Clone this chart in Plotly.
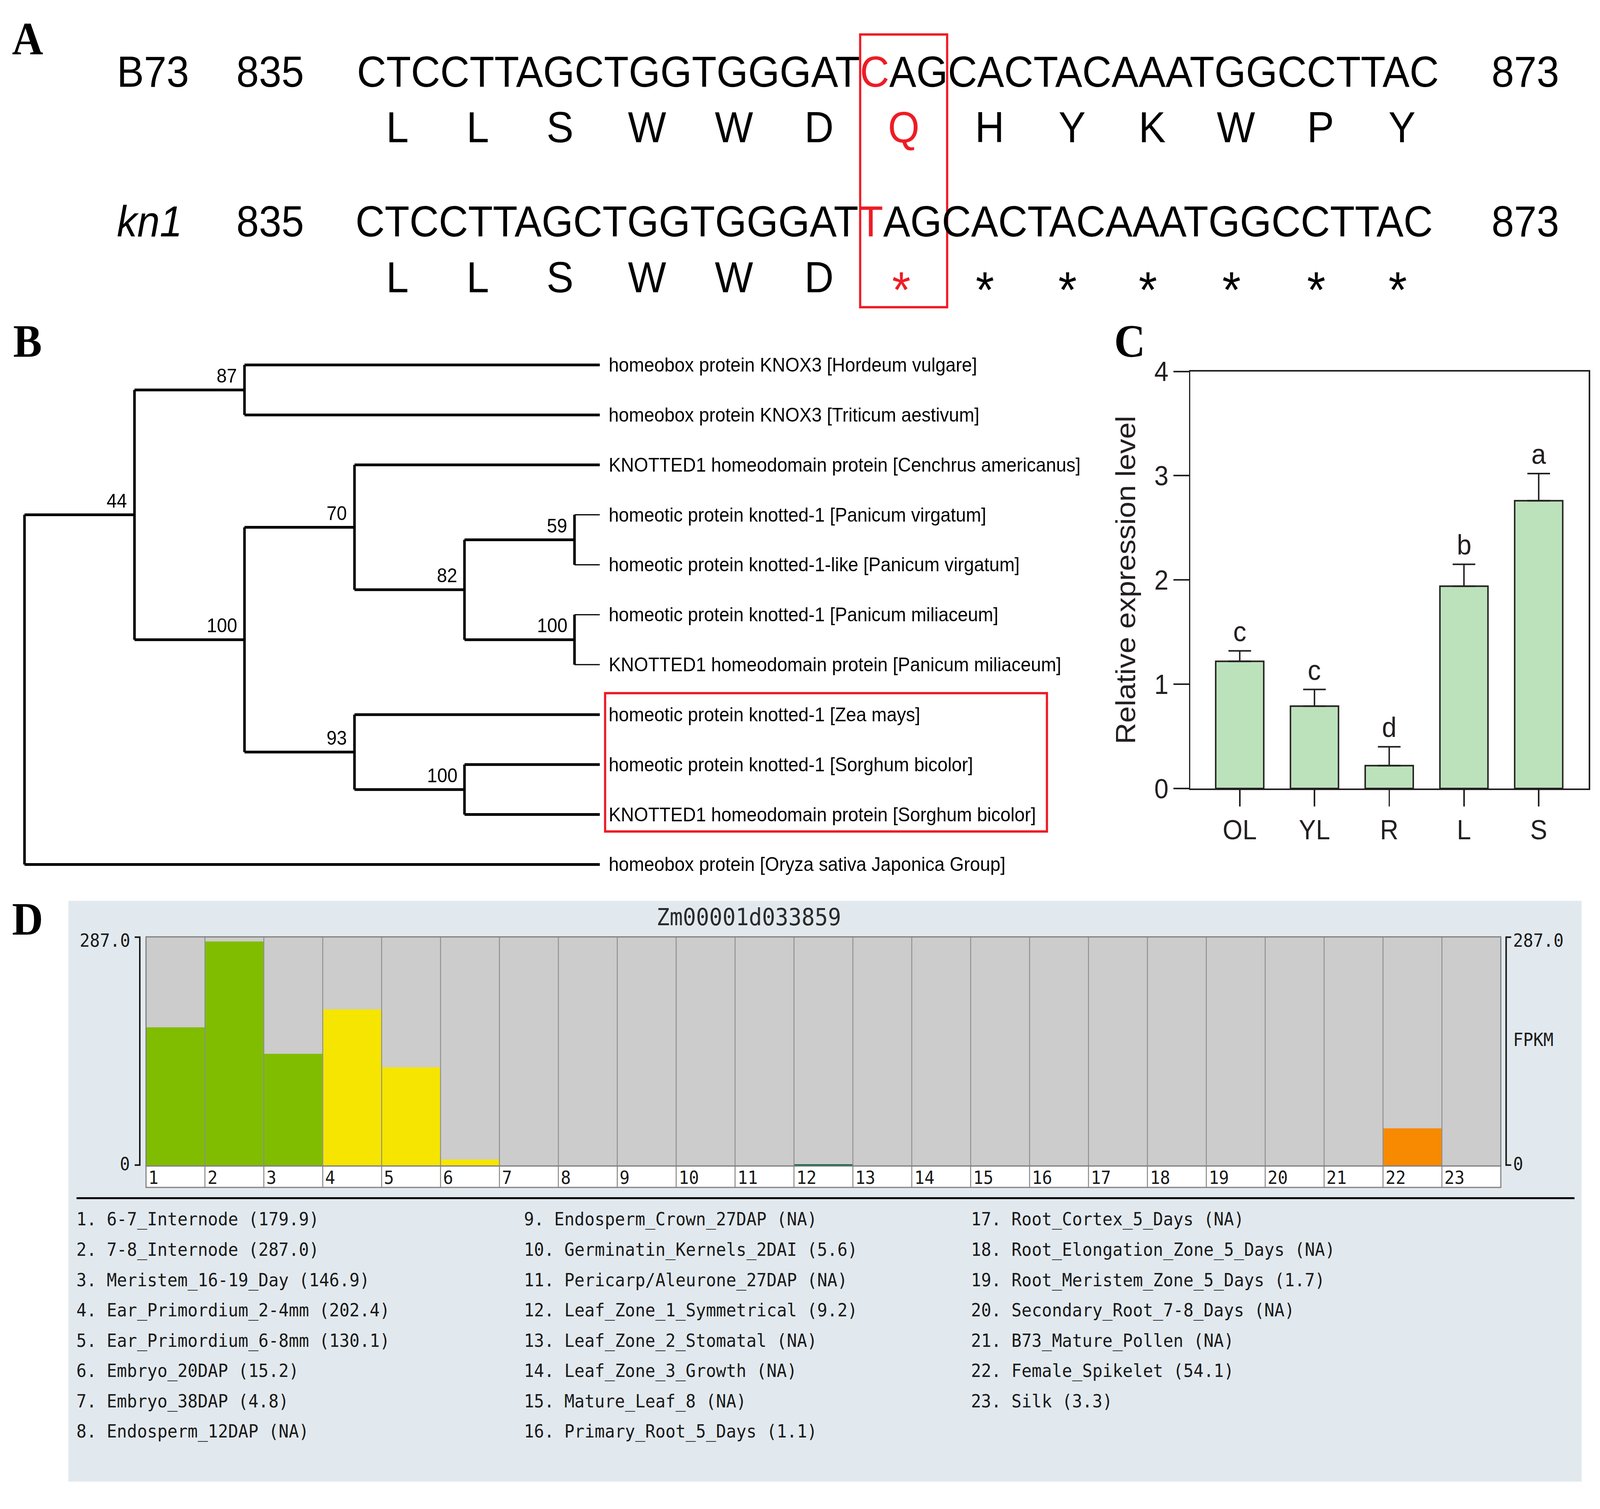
import plotly.graph_objects as go

# ======================= DATA =======================
# Panel A - sequences around the kn1 mutation
pos_start = 835
pos_end = 873
b73_left = "CTCCTTAGCTGGTGGGAT"
b73_snp = "C"
b73_right = "AGCACTACAAATGGCCTTAC"
kn1_left = "CTCCTTAGCTGGTGGGAT"
kn1_snp = "T"
kn1_right = "AGCACTACAAATGGCCTTAC"
aa_b73 = ["L", "L", "S", "W", "W", "D", "Q", "H", "Y", "K", "W", "P", "Y"]
aa_kn1 = ["L", "L", "S", "W", "W", "D", "*", "*", "*", "*", "*", "*", "*"]

# Panel B - phylogenetic tree (support, children); leaves are strings
tree = (None, [
    ("44", [
        ("87", ["homeobox protein KNOX3 [Hordeum vulgare]",
                "homeobox protein KNOX3 [Triticum aestivum]"]),
        ("100", [
            ("70", ["KNOTTED1 homeodomain protein [Cenchrus americanus]",
                    ("82", [("59", ["homeotic protein knotted-1 [Panicum virgatum]",
                                    "homeotic protein knotted-1-like [Panicum virgatum]"]),
                            ("100", ["homeotic protein knotted-1 [Panicum miliaceum]",
                                     "KNOTTED1 homeodomain protein [Panicum miliaceum]"])])]),
            ("93", ["homeotic protein knotted-1 [Zea mays]",
                    ("100", ["homeotic protein knotted-1 [Sorghum bicolor]",
                             "KNOTTED1 homeodomain protein [Sorghum bicolor]"])])])]),
    "homeobox protein [Oryza sativa Japonica Group]"])
highlight_tips = ["homeotic protein knotted-1 [Zea mays]",
                  "KNOTTED1 homeodomain protein [Sorghum bicolor]"]

# Panel C - qRT-PCR
tissues_c = ["OL", "YL", "R", "L", "S"]
expr_mean = [1.22, 0.79, 0.22, 1.94, 2.76]
expr_err = [0.10, 0.16, 0.18, 0.21, 0.26]
sig_letters = ["c", "c", "d", "b", "a"]

# Panel D - FPKM expression atlas
gene_id = "Zm00001d033859"
sample_names = ["6-7_Internode", "7-8_Internode", "Meristem_16-19_Day", "Ear_Primordium_2-4mm",
                "Ear_Primordium_6-8mm", "Embryo_20DAP", "Embryo_38DAP", "Endosperm_12DAP",
                "Endosperm_Crown_27DAP", "Germinatin_Kernels_2DAI", "Pericarp/Aleurone_27DAP",
                "Leaf_Zone_1_Symmetrical", "Leaf_Zone_2_Stomatal", "Leaf_Zone_3_Growth",
                "Mature_Leaf_8", "Primary_Root_5_Days", "Root_Cortex_5_Days",
                "Root_Elongation_Zone_5_Days", "Root_Meristem_Zone_5_Days",
                "Secondary_Root_7-8_Days", "B73_Mature_Pollen", "Female_Spikelet", "Silk"]
fpkm = [179.9, 287.0, 146.9, 202.4, 130.1, 15.2, 4.8, None, None, 5.6, None, 9.2,
        None, None, None, 1.1, None, None, 1.7, None, None, 54.1, 3.3]
fpkm_max = 287.0

# ======================= STYLE / LAYOUT HELPERS =======================
W, H = 4380, 3862
S = W / 1568.0


def px(d):
    return d / 1568.0


def py(d):
    return 1.0 - d / 1382.0


SANS = "Liberation Sans, Arial, sans-serif"
SERIF = "Liberation Serif, Times New Roman, serif"
MONO = "DejaVu Sans Mono, monospace"
RED = "#ee1c25"
INK = "#231f20"

ann = []
shapes = []
fig = go.Figure()


def add_text(text, x, y, size, family=SANS, color="black", xanchor="center",
             yanchor="middle", xref="paper", yref="paper", xshift=0, yshift=0, angle=0):
    ann.append(dict(text=text, x=x, y=y, xref=xref, yref=yref, xanchor=xanchor,
                    yanchor=yanchor, showarrow=False, xshift=xshift, yshift=yshift,
                    textangle=angle, font=dict(family=family, size=size, color=color)))


# panel letters
for letter, (lx, ly) in zip(["A", "B", "C", "D"], [(27, 22), (27, 305), (1107, 305), (27, 845)]):
    add_text("<b>%s</b>" % letter, px(lx), py(ly), 118, family=SERIF)

# ======================= PANEL A =======================
GLYPH_W = {"A": 0.667, "C": 0.722, "G": 0.778, "T": 0.611}


def text_w(s):
    return sum(GLYPH_W[c] for c in s)


FS_SEQ = 111
seq_x0 = 349 * S
rows = [("B73", b73_left, b73_snp, b73_right, aa_b73, 53, 105),
        ("<i>kn1</i>", kn1_left, kn1_snp, kn1_right, aa_kn1, 193, 245)]
for name, left, snp, right, aas, y_seq, y_aa in rows:
    full = left + snp + right
    snp_codon = len(left) // 3
    add_text(name, px(114), py(y_seq), FS_SEQ, xanchor="left")
    add_text(str(pos_start), px(231), py(y_seq), FS_SEQ, xanchor="left")
    add_text(str(pos_end), px(1461), py(y_seq), FS_SEQ, xanchor="left")
    add_text(left + '<span style="color:%s">%s</span>' % (RED, snp) + right,
             seq_x0 / W, py(y_seq), FS_SEQ, xanchor="left")
    for i, a in enumerate(aas):
        start = text_w(full[:3 * i])
        cw = text_w(full[3 * i:3 * i + 3])
        cx = (seq_x0 + (start + cw / 2.0) * FS_SEQ * 0.99) / W
        col = RED if i == snp_codon else "black"
        if a == "*":
            add_text(a, cx, py(y_aa), 130, color=col, yshift=-32)
        else:
            add_text(a, cx, py(y_aa), FS_SEQ, color=col)

snp_idx = len(b73_left)
full_b73 = b73_left + b73_snp + b73_right
c0 = snp_idx // 3 * 3
box_x0 = (seq_x0 + text_w(full_b73[:c0]) * FS_SEQ * 0.99) / W
box_x1 = (seq_x0 + text_w(full_b73[:c0 + 3]) * FS_SEQ * 0.99) / W
shapes.append(dict(type="rect", xref="paper", yref="paper", x0=box_x0, x1=box_x1,
                   y0=py(273), y1=py(18), line=dict(color=RED, width=6)))

# ======================= PANEL B (tree) =======================
TIP_EXT = 0.23
FS_TREE = 50


def max_depth(node, d=0):
    if isinstance(node, str):
        return d - 1
    return max(max_depth(c, d + 1) for c in node[1])


TIP_X = max_depth(tree) + TIP_EXT
tip_order = []
thick_x, thick_y, thin_x, thin_y = [], [], [], []
supports = []


def place(node, depth):
    if isinstance(node, str):
        tip_order.append(node)
        return TIP_X, float(len(tip_order) - 1), True
    sup, children = node
    res = [place(c, depth + 1) for c in children]
    ys = [r[1] for r in res]
    x = float(depth)
    y = sum(ys) / len(ys)
    thick_x.extend([x, x, None])
    thick_y.extend([min(ys), max(ys), None])
    for cx, cy, is_tip in res:
        if is_tip and cx - x < 0.5:
            thin_x.extend([x, cx, None])
            thin_y.extend([cy, cy, None])
        else:
            thick_x.extend([x, cx, None])
            thick_y.extend([cy, cy, None])
    if sup is not None:
        supports.append((x, y, sup))
    return x, y, False


place(tree, 0)
fig.add_trace(go.Scatter(x=thick_x, y=thick_y, mode="lines", xaxis="x2", yaxis="y2",
                         line=dict(color="black", width=7), hoverinfo="skip", showlegend=False))
fig.add_trace(go.Scatter(x=thin_x, y=thin_y, mode="lines", xaxis="x2", yaxis="y2",
                         line=dict(color="black", width=3), hoverinfo="skip", showlegend=False))
for i, name in enumerate(tip_order):
    add_text(name, TIP_X, i, FS_TREE, xanchor="left", xref="x2", yref="y2", xshift=22)
for x, y, sup in supports:
    add_text(sup, x, y, FS_TREE, xanchor="right", yanchor="bottom", xref="x2", yref="y2",
             xshift=-18, yshift=6)
hl0 = tip_order.index(highlight_tips[0])
hl1 = tip_order.index(highlight_tips[1])
shapes.append(dict(type="rect", xref="paper", yref="y2", x0=px(593), x1=px(1026),
                   y0=hl0 - 0.43, y1=hl1 + 0.34, line=dict(color=RED, width=6)))

LV = 107.8
XR = [-0.1, 5.32]
YR = [10.35, -0.35]

# ======================= PANEL C =======================
fig.add_trace(go.Bar(x=tissues_c, y=expr_mean, xaxis="x3", yaxis="y3", width=0.643,
                     marker=dict(color="#bce2bc", line=dict(color=INK, width=4)),
                     error_y=dict(type="data", symmetric=False, array=expr_err,
                                  arrayminus=[0] * len(expr_err), color=INK, thickness=4, width=31),
                     hoverinfo="skip", showlegend=False))
for t, m, e, l in zip(tissues_c, expr_mean, expr_err, sig_letters):
    add_text(l, t, m + e, 72, color=INK, yanchor="bottom", xref="x3", yref="y3", yshift=8)

# ======================= PANEL D =======================
grp_color = {1: "#80bd00", 2: "#80bd00", 3: "#80bd00", 4: "#f5e500", 5: "#f5e500",
             6: "#f5e500", 7: "#f5e500", 8: "#f5e500", 9: "#f5e500", 10: "#f5e500",
             11: "#f5e500", 12: "#00613f", 13: "#00613f", 14: "#00613f", 15: "#00613f",
             16: "#8b5a2b", 17: "#8b5a2b", 18: "#8b5a2b", 19: "#8b5a2b", 20: "#8b5a2b",
             21: "#f78a00", 22: "#f78a00", 23: "#f78a00"}
idx = list(range(1, len(fpkm) + 1))
fig.add_trace(go.Bar(x=idx, y=fpkm, xaxis="x4", yaxis="y4", width=1.0,
                     marker=dict(color=[grp_color[i] for i in idx], line=dict(width=0)),
                     hoverinfo="skip", showlegend=False))

# panel background
shapes.append(dict(type="rect", xref="paper", yref="paper", x0=px(67), x1=px(1550),
                   y0=py(1371), y1=py(828), fillcolor="#e2e9ee", line=dict(width=0), layer="below"))
shapes.append(dict(type="rect", xref="x4 domain", yref="y4 domain", x0=0, x1=1, y0=0, y1=1,
                   fillcolor="#cccccc", line=dict(width=0), layer="below"))
for k in idx[:-1]:
    shapes.append(dict(type="line", xref="x4", yref="y4 domain", x0=k + 0.5, x1=k + 0.5,
                       y0=0, y1=1, line=dict(color="#8e8e8e", width=2.5)))
shapes.append(dict(type="rect", xref="x4 domain", yref="y4 domain", x0=0, x1=1, y0=0, y1=1,
                   line=dict(color="#7c7c7c", width=3)))
# number row
shapes.append(dict(type="rect", xref="x4 domain", yref="paper", x0=0, x1=1,
                   y0=py(1096), y1=py(1076), fillcolor="white", line=dict(color="#808080", width=3)))
for k in idx[:-1]:
    shapes.append(dict(type="line", xref="x4", yref="paper", x0=k + 0.5, x1=k + 0.5,
                       y0=py(1096), y1=py(1076), line=dict(color="#808080", width=2.5)))
for k in idx:
    add_text(str(k), k - 0.49, py(1087), 46, family=MONO, color="#1a1a1a", xanchor="left",
             xref="x4", yref="paper", xshift=3)
# scale brackets
for xl, xt in [(137, 132), (1476, 1481)]:
    shapes.append(dict(type="path", xref="paper", yref="paper",
                       path="M %f,%f L %f,%f L %f,%f L %f,%f" % (px(xt), py(862), px(xl), py(862),
                                                                 px(xl), py(1075), px(xt), py(1075)),
                       line=dict(color="#111111", width=4)))
add_text("%.1f" % fpkm_max, px(128), py(865), 46, family=MONO, color="#1a1a1a", xanchor="right")
add_text("0", px(128), py(1074), 46, family=MONO, color="#1a1a1a", xanchor="right")
add_text("%.1f" % fpkm_max, px(1482), py(865), 46, family=MONO, color="#1a1a1a", xanchor="left")
add_text("0", px(1482), py(1074), 46, family=MONO, color="#1a1a1a", xanchor="left")
add_text("FPKM", px(1482), py(958), 46, family=MONO, color="#1a1a1a", xanchor="left")
add_text(gene_id, px(734), py(843), 60, family=MONO, color="#2a2a2a")
shapes.append(dict(type="line", xref="paper", yref="paper", x0=px(75), x1=px(1543),
                   y0=py(1106), y1=py(1106), line=dict(color="black", width=5)))
# legend list
col_x = [74, 512.8, 951]
for n, (name, v) in enumerate(zip(sample_names, fpkm)):
    col, row = n // 8, n % 8
    val = "NA" if v is None else "%.1f" % v
    add_text("%d. %s (%s)" % (n + 1, name, val), px(col_x[col]), py(1125.7 + 28.33 * row), 46,
             family=MONO, color="#1a1a1a", xanchor="left")

# ======================= LAYOUT =======================
axis_off = dict(visible=False, showgrid=False, zeroline=False)
c_axis = dict(showline=True, linecolor=INK, linewidth=4, mirror=True, ticks="outside",
              ticklen=42, tickwidth=4, tickcolor=INK, showgrid=False, zeroline=False,
              tickfont=dict(family=SANS, size=70, color=INK))
fig.update_layout(
    width=W, height=H, margin=dict(l=0, r=0, t=0, b=0),
    paper_bgcolor="white", plot_bgcolor="rgba(0,0,0,0)", showlegend=False,
    modebar=dict(bgcolor="rgba(0,0,0,0)", color="rgba(0,0,0,0)", activecolor="rgba(0,0,0,0)"),
    xaxis2=dict(axis_off, domain=[px(24 + XR[0] * LV), px(24 + XR[1] * LV)], range=XR, anchor="y2"),
    yaxis2=dict(axis_off, domain=[py(327 + YR[0] * 46.7), py(327 + YR[1] * 46.7)], range=YR, anchor="x2"),
    xaxis3=dict(c_axis, domain=[px(1166.6), px(1557)], range=[-0.66, 4.67], anchor="y3",
                type="category"),
    yaxis3=dict(c_axis, domain=[py(723), py(333)], range=[0, 4], dtick=1, anchor="x3",
                title=dict(text="Relative expression level", standoff=28,
                           font=dict(family=SANS, size=76, color=INK))),
    xaxis4=dict(axis_off, domain=[px(143.1), px(1470.8)], range=[0.5, 23.5], anchor="y4"),
    yaxis4=dict(axis_off, domain=[py(1076), py(861.7)], range=[7, 292.7], anchor="x4"),
    annotations=ann, shapes=shapes,
)

# fit the fixed-size figure exactly into the browser viewport (no page margins)
fit_js = """
var gd = document.getElementById('{plot_id}');
document.documentElement.style.margin = '0';
document.body.style.margin = '0';
document.documentElement.style.overflow = 'hidden';
document.body.style.overflow = 'hidden';
function fitFig() {
  var sx = window.innerWidth / %d, sy = window.innerHeight / %d;
  gd.style.transformOrigin = '0 0';
  gd.style.transform = 'scale(' + sx + ',' + sy + ')';
}
fitFig();
window.addEventListener('resize', fitFig);
""" % (W, H)
fig.write_html("out.html", post_script=fit_js, config={"displayModeBar": False})
